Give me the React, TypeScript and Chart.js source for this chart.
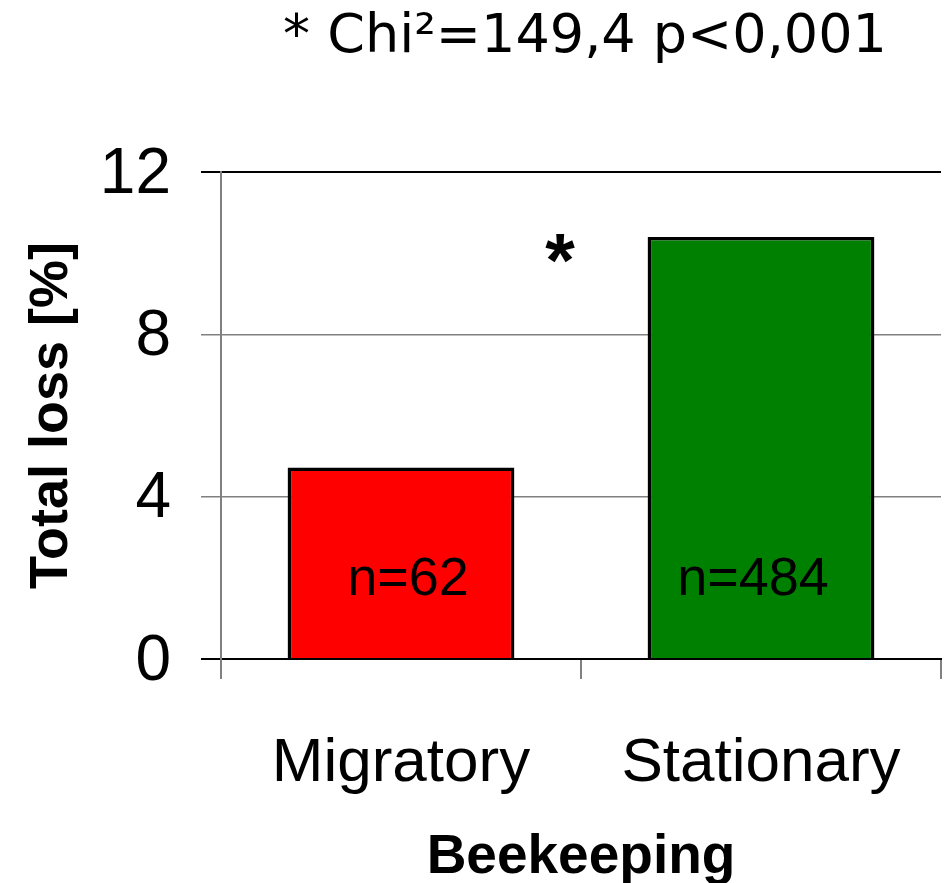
import React, { useEffect, useRef } from "react";
import { Chart, registerables } from "chart.js";

Chart.register(...registerables);

const categories = ["Migratory", "Stationary"];
const totalLoss = [4.72, 10.4];
const sampleLabels = ["n=62", "n=484"];
const barColors = ["#FF0000", "#008000"];
const yTicks = [0, 4, 8, 12];
const titleText = "* Chi\u00B2=149,4 p<0,001";
const sampleLabelValue = 1.95;
const starValue = 10.1;

const annotationPlugin = {
  id: "annotations",
  afterDraw(chart: any) {
    const ctx = chart.ctx;
    const { chartArea } = chart;
    const xs = chart.scales.x;
    const ys = chart.scales.y;
    const midX = (xs.getPixelForValue(0) + xs.getPixelForValue(1)) / 2;
    ctx.save();
    // title
    ctx.fillStyle = "#000";
    ctx.font = "54px 'DejaVu Sans'";
    ctx.textAlign = "center";
    ctx.textBaseline = "middle";
    ctx.fillText(titleText, (chartArea.left + chartArea.right) / 2 + 4, 38);
    // sample size labels (nudged toward the centre, as in the reference)
    ctx.font = "54px 'Liberation Sans'";
    sampleLabels.forEach((lbl, i) => {
      const px = xs.getPixelForValue(i);
      const nudge = px < midX ? 7 : -8;
      ctx.fillText(lbl, px + nudge, ys.getPixelForValue(sampleLabelValue));
    });
    // significance star
    ctx.font = "bold 76px 'Liberation Sans'";
    ctx.fillText("*", midX - 21, ys.getPixelForValue(starValue) + 16);
    ctx.restore();
  },
};

export default function App() {
  const ref = useRef<HTMLCanvasElement | null>(null);
  useEffect(() => {
    if (!ref.current) return;
    const chart = new Chart(ref.current, {
      type: "bar",
      data: {
        labels: categories,
        datasets: [
          {
            data: totalLoss,
            backgroundColor: barColors,
            borderColor: "#000",
            borderWidth: 3.5,
            categoryPercentage: 1,
            barPercentage: 0.63,
          },
        ],
      },
      options: {
        animation: false,
        responsive: true,
        maintainAspectRatio: false,
        layout: { padding: { top: 172, right: 5, left: 0, bottom: 0 } },
        plugins: { legend: { display: false }, tooltip: { enabled: false }, title: { display: false } },
        scales: {
          x: {
            offset: true,
            grid: {
              offset: true,
              drawOnChartArea: false,
              drawTicks: true,
              tickLength: 20,
              color: "#808080",
              lineWidth: 2,
            },
            border: { color: "#000", width: 2 },
            ticks: {
              color: "#000",
              font: { family: "'Liberation Sans'", size: 62 },
              padding: 48,
            },
            title: {
              display: true,
              text: "Beekeeping",
              color: "#000",
              font: { family: "'Liberation Sans'", size: 55, weight: "bold", lineHeight: 0.92 },
              padding: { top: 0, bottom: 0 },
            },
            afterFit(scale: any) {
              scale.height = 224;
              scale.paddingLeft = 0;
              scale.paddingRight = 0;
            },
          },
          y: {
            min: 0,
            max: 12,
            afterBuildTicks(scale: any) {
              scale.ticks = yTicks.map((v) => ({ value: v }));
            },
            grid: {
              tickLength: 20,
              color: (c: any) => (c.tick && (c.tick.value === 12 || c.tick.value === 0) ? "#000" : "#808080"),
              lineWidth: (c: any) => (c.tick && (c.tick.value === 12 || c.tick.value === 0) ? 2 : 1.5),
            },
            border: { color: "#808080", width: 2 },
            ticks: {
              color: "#000",
              font: { family: "'Liberation Sans'", size: 64 },
              padding: 30,
              labelOffset: 3,
            },
            title: {
              display: true,
              text: "Total loss [%]",
              color: "#000",
              font: { family: "'Liberation Sans'", size: 54, weight: "bold" },
              padding: { top: 20, bottom: 0 },
            },
            afterFit(scale: any) {
              scale.width = 221;
              scale.paddingTop = 0;
              scale.paddingBottom = 0;
            },
          },
        },
      },
      plugins: [annotationPlugin],
    });
    return () => chart.destroy();
  }, []);
  return (
    <div style={{ position: "absolute", left: 0, top: 0, width: 946, height: 883, background: "#fff" }}>
      <canvas ref={ref} />
    </div>
  );
}
